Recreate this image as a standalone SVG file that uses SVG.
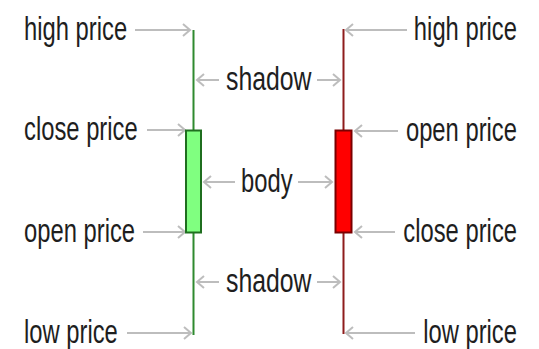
<svg xmlns="http://www.w3.org/2000/svg" width="539" height="349" viewBox="0 0 539 349">
<style>
text{font-family:"Liberation Sans",Arial,sans-serif;font-size:34px;fill:#1e1e1e}
.r{text-anchor:end}
.a{stroke:#bdbdbd;stroke-width:2;fill:none;marker-end:url(#ah)}
</style>
<defs>
<marker id="ah" markerUnits="userSpaceOnUse" markerWidth="12" markerHeight="16" refX="9" refY="7" orient="auto">
<path d="M2,1 L9,7 L2,13" fill="none" stroke="#bdbdbd" stroke-width="2"/>
</marker>
</defs>
<rect width="539" height="349" fill="#ffffff"/>
<g id="connectors">
<line class="a" x1="135" y1="30" x2="190" y2="30"/>
<line class="a" x1="147" y1="130" x2="185" y2="130"/>
<line class="a" x1="143" y1="232" x2="185" y2="232"/>
<line class="a" x1="127" y1="333" x2="191" y2="333"/>
<line class="a" x1="407" y1="30" x2="346" y2="30"/>
<line class="a" x1="398" y1="131" x2="355" y2="131"/>
<line class="a" x1="395" y1="232" x2="355" y2="232"/>
<line class="a" x1="415" y1="333" x2="346" y2="333"/>
<line class="a" x1="219" y1="80" x2="197" y2="80"/>
<line class="a" x1="317" y1="80" x2="340" y2="80"/>
<line class="a" x1="235" y1="182" x2="204" y2="182"/>
<line class="a" x1="298" y1="182" x2="332" y2="182"/>
<line class="a" x1="219" y1="282" x2="197" y2="282"/>
<line class="a" x1="317" y1="282" x2="340" y2="282"/>
</g>
<g id="green-candle">
<line x1="193.5" y1="30" x2="193.5" y2="335" stroke="#2f8a2f" stroke-width="2"/>
<rect x="186" y="130.5" width="15" height="102" fill="#80ff80" stroke="#1f6e1f" stroke-width="2"/>
</g>
<g id="red-candle">
<line x1="343.5" y1="29" x2="343.5" y2="334" stroke="#8e1c1c" stroke-width="2"/>
<rect x="335.5" y="130.5" width="16" height="102" fill="#ff0000" stroke="#7a0000" stroke-width="2"/>
</g>
<g id="left-labels">
<text transform="translate(24,40) scale(0.7,1)">high price</text>
<text transform="translate(24,140) scale(0.7,1)">close price</text>
<text transform="translate(24,242) scale(0.7,1)">open price</text>
<text transform="translate(24,343) scale(0.7,1)">low price</text>
</g>
<g id="right-labels">
<text class="r" transform="translate(517,40) scale(0.7,1)">high price</text>
<text class="r" transform="translate(517,141) scale(0.7,1)">open price</text>
<text class="r" transform="translate(517,242) scale(0.7,1)">close price</text>
<text class="r" transform="translate(517,343) scale(0.7,1)">low price</text>
</g>
<g id="center-labels">
<text transform="translate(226,90) scale(0.73,1)">shadow</text>
<text transform="translate(241,192) scale(0.7,1)">body</text>
<text transform="translate(226,292) scale(0.73,1)">shadow</text>
</g>
</svg>
